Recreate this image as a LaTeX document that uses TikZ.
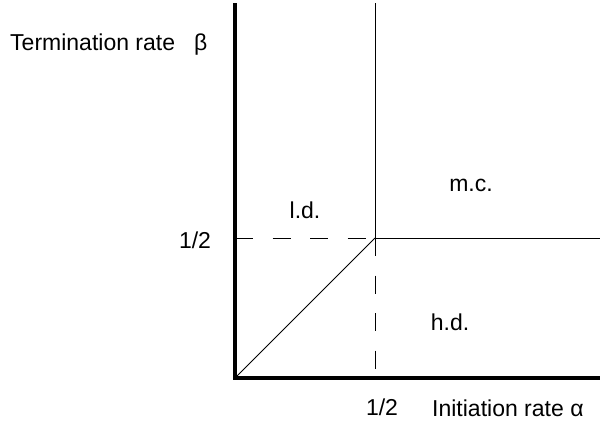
\documentclass[tikz,border=0pt]{standalone}
\usepackage{fontspec}
\setmainfont{Liberation Sans}

\begin{document}
\begin{tikzpicture}[x=1pt,y=-1pt,
    lbl/.style={font=\fontsize{23}{27}\selectfont,inner sep=0pt},
    axis/.style={black,line width=3.5pt},
    phase/.style={black,solid,line width=0.9pt},
    guide/.style={black,line width=0.9pt,dash pattern=on 18pt off 19.5pt}]
    \useasboundingbox (0,0) rectangle (600,421);

    \coordinate (O) at (235,378);
    \coordinate (ytop) at (235,3);
    \coordinate (xend) at (600,378);
    \coordinate (T) at (375,238);
    \coordinate (Ttop) at (375,3);
    \coordinate (Tright) at (600,238);
    \coordinate (Tleft) at (235,238);
    \coordinate (Tdown) at (375,378);

    \node[lbl,anchor=west] (beta) at (10,45) {Termination rate\ \ \ β};
    \node[lbl] (half y) at (195,240) {1/2};
    \node[lbl] (ld) at (305,210) {l.d.};
    \node[lbl] (mc) at (471,185) {m.c.};
    \node[lbl] (hd) at (450,322) {h.d.};
    \node[lbl] (half x) at (382,407) {1/2};
    \node[lbl,anchor=west] (alpha) at (432,408) {Initiation rate α};

    \draw[axis] (ytop) -- (O) -- (xend);
    \path (T) edge[phase] (Ttop)
    (T) edge[phase] (Tright)
    (O) edge[phase] (T)
    (Tleft) edge[guide] (T)
    (T) edge[guide] (Tdown);

\end{tikzpicture}
\end{document}
